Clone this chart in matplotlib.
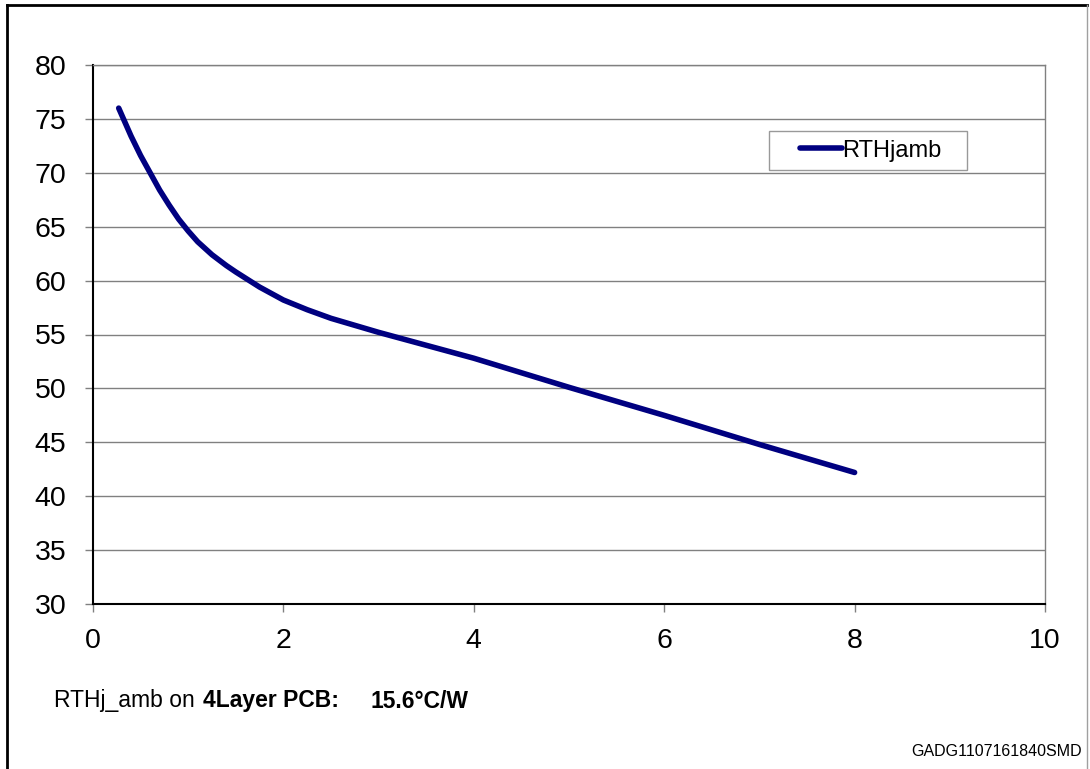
import matplotlib
matplotlib.use("Agg")
import matplotlib.pyplot as plt
import numpy as np
from matplotlib.lines import Line2D
from matplotlib.legend_handler import HandlerLine2D

plt.rcParams['font.family'] = ['Liberation Sans', 'DejaVu Sans']

x_vals = [0.27, 0.4, 0.5, 0.6, 0.7, 0.8, 0.9, 1.0, 1.1, 1.25, 1.4, 1.5, 1.75, 2.0, 2.25, 2.5, 3.0, 4.0, 5.0, 6.0, 7.0, 8.0]
y_vals = [76.0, 73.4, 71.6, 70.0, 68.4, 67.0, 65.7, 64.6, 63.6, 62.4, 61.4, 60.8, 59.4, 58.2, 57.3, 56.5, 55.2, 52.8, 50.1, 47.5, 44.8, 42.2]
series_name = "RTHjamb"
x_ticks = [0, 2, 4, 6, 8, 10]
y_ticks = [30, 35, 40, 45, 50, 55, 60, 65, 70, 75, 80]


class OffsetLineHandler(HandlerLine2D):
    def __init__(self, frac=0.34, **kw):
        super().__init__(**kw)
        self.frac = frac

    def create_artists(self, legend, orig_handle, xdescent, ydescent, width,
                       height, fontsize, trans):
        x0 = -xdescent + width * self.frac
        y = (height - ydescent) / 2.0
        line = Line2D([x0, -xdescent + width], [y, y])
        self.update_prop(line, orig_handle, legend)
        line.set_transform(trans)
        return [line]


fig = plt.figure(figsize=(10.9, 7.69), dpi=100)
ax = fig.add_axes([93/1090, 1-604/769, (1045-93)/1090, (604-65)/769])

ln, = ax.plot(x_vals, y_vals, color='#000080', lw=4.0, solid_capstyle='round',
              solid_joinstyle='round', label=series_name)
ax.set_xlim(0, 10)
ax.set_ylim(30, 80)
ax.set_xticks(x_ticks)
ax.set_yticks(y_ticks)
ax.grid(axis='y', color='#808080', lw=1)
ax.set_axisbelow(True)
for s in ['top', 'right']:
    ax.spines[s].set_color('#808080')
    ax.spines[s].set_linewidth(1)
for s in ['left', 'bottom']:
    ax.spines[s].set_color('black')
    ax.spines[s].set_linewidth(1.5)
ax.tick_params(direction='out', length=6, width=1, color='#808080',
               labelsize=20.5)
ax.tick_params(axis='y', pad=13)
ax.tick_params(axis='x', pad=11.5)

bx0 = (769-93)/952
bw = (967-769)/952
btop = 1-(131-65)/539
leg = ax.legend(handles=[ln], loc='upper left',
                bbox_to_anchor=(bx0, btop - 0.1, bw, 0.1), mode='expand',
                fontsize=17, frameon=True, fancybox=False, handlelength=2.75,
                handletextpad=0.0, borderpad=0.36, borderaxespad=0,
                handler_map={Line2D: OffsetLineHandler(frac=0.34)})
leg.get_frame().set_edgecolor('#808080')
leg.get_frame().set_linewidth(1)

fig.text(54/1090, 1-701/769, "RTHj_amb on ", fontsize=16.5, va='center', ha='left')
fig.text(203/1090, 1-701/769, "4Layer PCB:", fontsize=16.5, va='center', ha='left', fontweight='bold')
fig.text(370/1090, 1-701/769, "15.6°C/W", fontsize=16.5, va='center', ha='left', fontweight='bold')
fig.text(1082/1090, 1-751/769, "GADG1107161840SMD", fontsize=11.5, va='center', ha='right')

fig.add_artist(Line2D([7/1090, 7/1090], [0, 1-5/769], color='black', lw=2, transform=fig.transFigure))
fig.add_artist(Line2D([7/1090, 1087/1090], [1-5/769, 1-5/769], color='black', lw=2, transform=fig.transFigure))
fig.add_artist(Line2D([1087/1090, 1087/1090], [0, 1-5/769], color='#a0a0a0', lw=1, transform=fig.transFigure))

fig.savefig("out.png", dpi=100)
